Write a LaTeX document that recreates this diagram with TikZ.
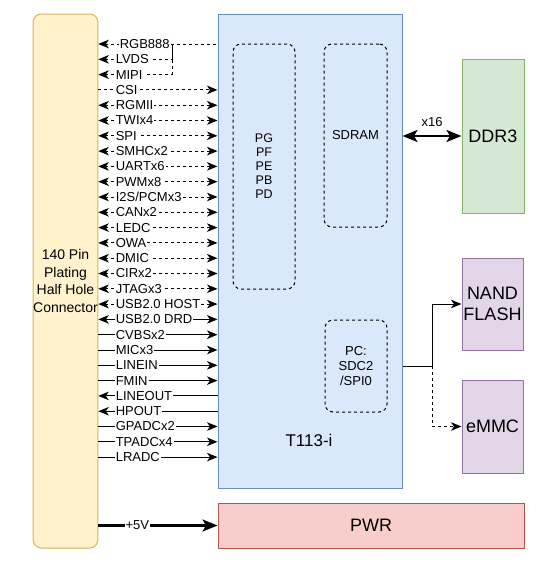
\documentclass[tikz,border=0pt]{standalone}
\usepackage{fontspec}
\setmainfont{Liberation Sans}
\usepackage{tikz}
\usetikzlibrary{arrows.meta}

\definecolor{conFill}{HTML}{FFF2CC}
\definecolor{conLine}{HTML}{D6B656}
\definecolor{socFill}{HTML}{DAE8FC}
\definecolor{socLine}{HTML}{6C8EBF}
\definecolor{ddrFill}{HTML}{D5E8D4}
\definecolor{ddrLine}{HTML}{82B366}
\definecolor{memFill}{HTML}{E1D5E7}
\definecolor{memLine}{HTML}{9673A6}
\definecolor{pwrFill}{HTML}{F8CECC}
\definecolor{pwrLine}{HTML}{B85450}

\newcommand{\sigfont}{\fontsize{13}{15}\selectfont}

\begin{document}
\begin{tikzpicture}[x=1pt, y=-1pt,
		>={Stealth[length=10.5pt, width=8.5pt, inset=3pt]},
		box/.style={draw, line width=1pt, inner sep=0pt},
		inbox/.style={draw, dashed, line width=1pt, rounded corners=8pt, align=center, inner sep=0pt},
		lbl/.style={pos=0, anchor=west, xshift=16pt, fill=white, inner sep=1pt, font=\sigfont},
		wire/.style={line width=1pt},
		bigtip/.style={line width=2.5pt, >={Stealth[length=15pt, width=12pt, inset=3.5pt]}}]
		\useasboundingbox (0,0) rectangle (549,566);
		
		\node[box, fill=conFill, draw=conLine, rounded corners=8pt, minimum width=61pt, minimum height=534pt, align=center, font=\fontsize{14}{17.5}\selectfont] (con) at (65.5,281) {140 Pin\\Plating\\Half Hole\\Connector};
		\node[box, fill=socFill, draw=socLine, minimum width=184pt, minimum height=474pt] (soc) at (310,251) {};
		\node[font=\fontsize{17}{20}\selectfont] (socname) at (309,440) {T113-i};
		
		\node[inbox, minimum width=62pt, minimum height=245pt, font=\fontsize{12.5}{14}\selectfont] (pg) at (264,166.5) {PG\\PF\\PE\\PB\\PD};
		\node[inbox, minimum width=63pt, minimum height=183pt, font=\sigfont] (sdram) at (355.5,135.5) {SDRAM};
		\node[inbox, minimum width=62pt, minimum height=92pt, font=\fontsize{13}{15}\selectfont] (pc) at (356,366) {PC:\\SDC2\\/SPI0};
		
		\node[box, fill=ddrFill, draw=ddrLine, minimum width=62pt, minimum height=154pt, font=\fontsize{18}{20}\selectfont] (ddr) at (493,136) {DDR3};
		\node[box, fill=memFill, draw=memLine, minimum width=61pt, minimum height=92pt, align=center, font=\fontsize{18}{21}\selectfont] (nand) at (492.5,304) {NAND\\FLASH};
		\node[box, fill=memFill, draw=memLine, minimum width=61pt, minimum height=93pt, font=\fontsize{18}{20}\selectfont] (emmc) at (492.5,426.5) {eMMC};
		\node[box, fill=pwrFill, draw=pwrLine, minimum width=306pt, minimum height=45pt, font=\fontsize{18}{20}\selectfont] (pwr) at (371,525.5) {PWR};
		
		% display outputs
		\coordinate (disp) at (172,44);
		\draw[wire, dashed, <-] (con.east |- disp) -- node[lbl, xshift=4pt] {RGB888} (soc.west |- disp);
		\draw[wire, dashed, <-] (con.east |- 0,59.3) -- node[lbl] {LVDS} (disp |- 0,59.3) -- (disp);
		\draw[wire, dashed, <-] (con.east |- 0,74.6) -- node[lbl] {MIPI} (disp |- 0,74.6) -- (disp);
		\draw[wire, dashed, ->] (con.east |- 0,89.9) -- node[lbl] {CSI} (soc.west |- 0,89.9);
		
		% bidirectional
		\draw[wire, dashed, <->] (con.east |- 0,105.2) -- node[lbl] {RGMII} (soc.west |- 0,105.2);
		\draw[wire, dashed, <->] (con.east |- 0,120.5) -- node[lbl] {TWIx4} (soc.west |- 0,120.5);
		\draw[wire, dashed, <->] (con.east |- 0,135.8) -- node[lbl] {SPI} (soc.west |- 0,135.8);
		\draw[wire, dashed, <->] (con.east |- 0,151.1) -- node[lbl] {SMHCx2} (soc.west |- 0,151.1);
		\draw[wire, dashed, <->] (con.east |- 0,166.4) -- node[lbl] {UARTx6} (soc.west |- 0,166.4);
		\draw[wire, dashed, <->] (con.east |- 0,181.7) -- node[lbl] {PWMx8} (soc.west |- 0,181.7);
		\draw[wire, dashed, <->] (con.east |- 0,197) -- node[lbl] {I2S/PCMx3} (soc.west |- 0,197);
		\draw[wire, dashed, <->] (con.east |- 0,212.3) -- node[lbl] {CANx2} (soc.west |- 0,212.3);
		\draw[wire, dashed, <->] (con.east |- 0,227.6) -- node[lbl] {LEDC} (soc.west |- 0,227.6);
		\draw[wire, dashed, <->] (con.east |- 0,242.9) -- node[lbl] {OWA} (soc.west |- 0,242.9);
		\draw[wire, dashed, <->] (con.east |- 0,258.2) -- node[lbl] {DMIC} (soc.west |- 0,258.2);
		\draw[wire, dashed, <->] (con.east |- 0,273.5) -- node[lbl] {CIRx2} (soc.west |- 0,273.5);
		\draw[wire, dashed, <->] (con.east |- 0,288.8) -- node[lbl] {JTAGx3} (soc.west |- 0,288.8);
		\draw[wire, dashed, <->] (con.east |- 0,304.1) -- node[lbl] {USB2.0 HOST} (soc.west |- 0,304.1);
		\draw[wire, <->] (con.east |- 0,319.4) -- node[lbl] {USB2.0 DRD} (soc.west |- 0,319.4);
		
		% analog
		\draw[wire, ->] (con.east |- 0,334.7) -- node[lbl] {CVBSx2} (soc.west |- 0,334.7);
		\draw[wire, ->] (con.east |- 0,350) -- node[lbl] {MICx3} (soc.west |- 0,350);
		\draw[wire, ->] (con.east |- 0,365.3) -- node[lbl] {LINEIN} (soc.west |- 0,365.3);
		\draw[wire, ->] (con.east |- 0,380.6) -- node[lbl] {FMIN} (soc.west |- 0,380.6);
		\draw[wire, <-] (con.east |- 0,395.9) -- node[lbl] {LINEOUT} (soc.west |- 0,395.9);
		\draw[wire, <-] (con.east |- 0,411.2) -- node[lbl] {HPOUT} (soc.west |- 0,411.2);
		\draw[wire, ->] (con.east |- 0,426.5) -- node[lbl] {GPADCx2} (soc.west |- 0,426.5);
		\draw[wire, ->] (con.east |- 0,441.8) -- node[lbl] {TPADCx4} (soc.west |- 0,441.8);
		\draw[wire, ->] (con.east |- 0,457.1) -- node[lbl] {LRADC} (soc.west |- 0,457.1);
		
		% power and memories
		\draw[bigtip, ->] (con.east |- pwr) -- node[lbl, xshift=9pt] {+5V} (pwr.west);
		\draw[bigtip, <->] (soc.east |- ddr) -- node[above=5pt, font=\sigfont] {x16} (ddr.west);
		
		\coordinate (split) at (432,366);
		\draw[wire, ->] (soc.east |- split) -- (split) |- (nand.west);
		\draw[wire, dashed, ->] (split) |- (emmc.west);
	\end{tikzpicture}
\end{document}
